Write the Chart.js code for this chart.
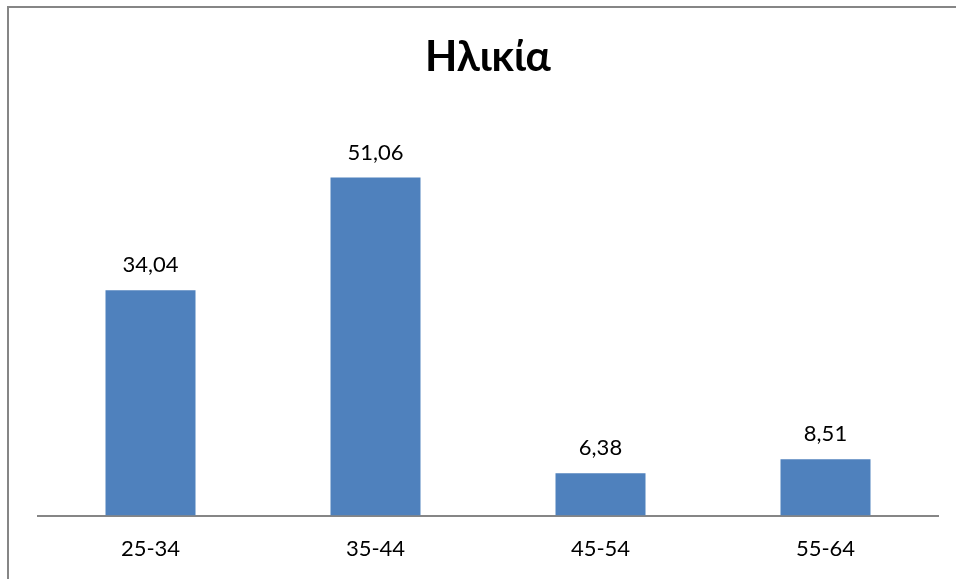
<!DOCTYPE html>
<html>
<head>
    <title>Ηλικία</title>
    <script src="https://cdn.jsdelivr.net/npm/chart.js"></script>
    <style>
        body { margin: 0; background: #fff; }
        #wrap { width: 956px; height: 579px; position: relative; }
    </style>
</head>
<body>
    <div id="wrap"><canvas id="ageChart" width="956" height="579"></canvas></div>

    <script>
        const categories = ['25-34', '35-44', '45-54', '55-64'];
        const values = [34.04, 51.06, 6.38, 8.51];
        const valueLabels = ['34,04', '51,06', '6,38', '8,51'];

        const fontFamily = "Lato, 'Noto Sans', 'Open Sans', sans-serif";

        // outer frame, cut off at right and bottom like the original
        const framePlugin = {
            id: 'frame',
            beforeDraw(chart) {
                const ctx = chart.ctx;
                ctx.save();
                ctx.fillStyle = '#fff';
                ctx.fillRect(0, 0, chart.width, chart.height);
                ctx.strokeStyle = '#868686';
                ctx.lineWidth = 2;
                ctx.strokeRect(8, 7, 2000, 2000);
                ctx.restore();
            }
        };

        // value labels above each bar
        const valueLabelPlugin = {
            id: 'valueLabels',
            afterDatasetsDraw(chart) {
                const ctx = chart.ctx;
                const meta = chart.getDatasetMeta(0);
                ctx.save();
                ctx.font = '22px ' + fontFamily;
                ctx.fillStyle = '#000';
                ctx.textAlign = 'center';
                ctx.textBaseline = 'middle';
                meta.data.forEach((bar, i) => {
                    ctx.fillText(valueLabels[i], bar.x, bar.y - 25);
                });
                ctx.restore();
            }
        };

        new Chart(document.getElementById('ageChart'), {
            type: 'bar',
            data: {
                labels: categories,
                datasets: [{
                    data: values,
                    backgroundColor: '#4F81BD',
                    borderWidth: 0,
                    categoryPercentage: 1,
                    barPercentage: 0.4
                }]
            },
            options: {
                responsive: false,
                animation: false,
                layout: {
                    padding: { left: 38, right: 18, top: 0, bottom: -3 }
                },
                plugins: {
                    legend: { display: false },
                    tooltip: { enabled: false },
                    title: {
                        display: true,
                        text: 'Ηλικία',
                        color: '#000',
                        font: { family: fontFamily, size: 42, weight: 'bold', lineHeight: 1.2 },
                        padding: { top: 32, bottom: 36 }
                    }
                },
                scales: {
                    x: {
                        grid: { display: false, drawTicks: false },
                        border: { display: true, color: '#868686', width: 2 },
                        ticks: {
                            color: '#000',
                            padding: 20,
                            font: { family: fontFamily, size: 22 }
                        }
                    },
                    y: {
                        display: false,
                        min: 0,
                        max: 60
                    }
                }
            },
            plugins: [framePlugin, valueLabelPlugin]
        });
    </script>
</body>
</html>
